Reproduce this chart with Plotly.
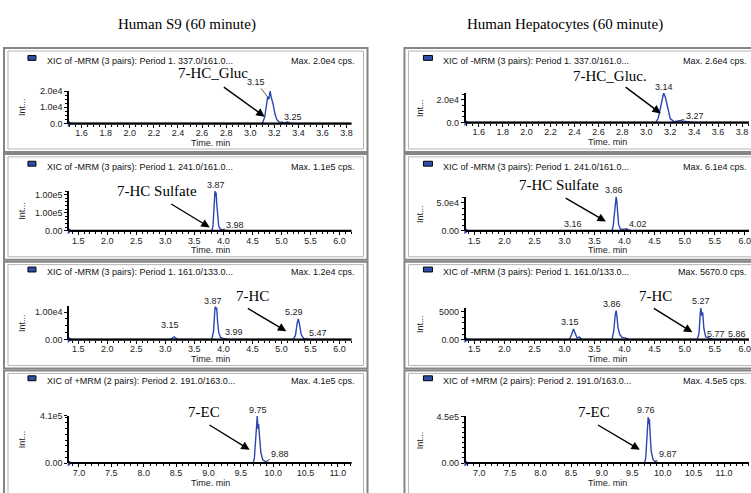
import plotly.graph_objects as go
import numpy as np

W, H = 751, 493


def px(x):
    return x / W


def py(y):
    return 1 - y / H


# ---------------- data ----------------
# Human S9 (60 minute)
s9_gluc_t = [1.50, 3.10, 3.12, 3.135, 3.145, 3.155, 3.165, 3.175, 3.19, 3.205, 3.22, 3.24, 3.26, 3.29, 3.31, 3.33, 3.36, 3.84]
s9_gluc_i = [0, 0, 4000, 12000, 16500, 15000, 20000, 16000, 12000, 6000, 2500, 900, 500, 700, 900, 400, 0, 0]

s9_sulf_t = [1.35, 3.80, 3.82, 3.84, 3.855, 3.865, 3.875, 3.885, 3.90, 3.92, 3.95, 3.98, 4.02, 4.08, 4.14, 6.20]
s9_sulf_i = [0, 0, 12000, 70000, 110000, 95000, 106000, 75000, 35000, 12000, 4500, 3000, 1800, 700, 0, 0]

s9_hc_t = [1.35, 3.08, 3.12, 3.15, 3.18, 3.22, 3.80, 3.83, 3.855, 3.865, 3.875, 3.885, 3.90, 3.92, 3.95, 3.99,
           4.05, 4.12, 5.20, 5.24, 5.27, 5.29, 5.31, 5.34, 5.38, 5.43, 5.47, 5.52, 6.20]
s9_hc_i = [0, 0, 500, 1000, 550, 0, 0, 3000, 11500, 12000, 11000, 11600, 6500, 2500, 800, 400,
           200, 0, 0, 1500, 6000, 7500, 5500, 1800, 400, 200, 150, 0, 0]

s9_ec_t = [6.85, 9.69, 9.71, 9.73, 9.745, 9.755, 9.765, 9.775, 9.79, 9.81, 9.84, 9.88, 9.93, 9.99, 10.05, 11.21]
s9_ec_i = [0, 0, 40000, 200000, 380000, 410000, 300000, 340000, 230000, 90000, 28000, 12000, 5000, 1500, 0, 0]

# Human Hepatocytes (60 minute)
hep_gluc_t = [1.50, 3.08, 3.10, 3.12, 3.135, 3.145, 3.16, 3.18, 3.20, 3.23, 3.26, 3.28, 3.31, 3.35, 3.40, 3.86]
hep_gluc_i = [0, 0, 4000, 14000, 23000, 26000, 22000, 11000, 3500, 800, 1300, 1600, 1200, 600, 0, 0]

hep_sulf_t = [1.36, 3.12, 3.16, 3.20, 3.79, 3.81, 3.835, 3.85, 3.86, 3.87, 3.885, 3.90, 3.93, 3.97, 4.02, 4.06, 4.12, 6.07]
hep_sulf_i = [0, 0, 700, 0, 0, 8000, 40000, 58000, 61000, 55000, 30000, 12000, 3500, 2500, 3500, 1800, 0, 0]

hep_hc_t = [1.36, 3.08, 3.12, 3.15, 3.18, 3.21, 3.25, 3.29, 3.79, 3.82, 3.845, 3.86, 3.875, 3.89, 3.92, 3.96, 4.01,
            4.09, 5.21, 5.24, 5.26, 5.27, 5.285, 5.30, 5.32, 5.35, 5.42, 5.50, 5.74, 5.77, 5.80, 5.84, 5.86, 5.89, 6.07]
hep_hc_i = [0, 0, 900, 1900, 1100, 300, 450, 0, 0, 1500, 4500, 5200, 4000, 2200, 900, 400, 300,
            0, 0, 1200, 4800, 5670, 4300, 4900, 2000, 500, 200, 0, 0, 150, 0, 0, 150, 0, 0]

hep_ec_t = [6.78, 9.70, 9.72, 9.74, 9.75, 9.76, 9.77, 9.78, 9.795, 9.81, 9.84, 9.87, 9.91, 9.96, 10.02, 11.41]
hep_ec_i = [0, 0, 50000, 250000, 420000, 450000, 380000, 430000, 250000, 110000, 35000, 15000, 6000, 2000, 0, 0]

# peak retention-time labels
s9_peaks = [[3.15, 3.25], [3.87, 3.98], [3.15, 3.87, 3.99, 5.29, 5.47], [9.75, 9.88]]
hep_peaks = [[3.14, 3.27], [3.16, 3.86, 4.02], [3.15, 3.86, 5.27, 5.77, 5.86], [9.76, 9.87]]

# text
column_titles = ["Human S9 (60 minute)", "Human Hepatocytes (60 minute)"]
xic_titles = ["XIC of -MRM (3 pairs): Period 1. 337.0/161.0...",
              "XIC of -MRM (3 pairs): Period 1. 241.0/161.0...",
              "XIC of -MRM (3 pairs): Period 1. 161.0/133.0...",
              "XIC of +MRM (2 pairs): Period 2. 191.0/163.0..."]
s9_max_text = ["Max. 2.0e4 cps.", "Max. 1.1e5 cps.", "Max. 1.2e4 cps.", "Max. 4.1e5 cps."]
hep_max_text = ["Max. 2.6e4 cps.", "Max. 6.1e4 cps.", "Max. 5670.0 cps.", "Max. 4.5e5 cps."]
s9_compounds = ["7-HC_Gluc", "7-HC Sulfate", "7-HC", "7-EC"]
hep_compounds = ["7-HC_Gluc.", "7-HC Sulfate", "7-HC", "7-EC"]
s9_ytickvals = [[0, 1e4, 2e4], [0, 5e4, 1e5], [0, 1e4], [0, 4.1e5]]
s9_yticktext = [["0.0", "1.0e4", "2.0e4"], ["0.00", "1.00e5", "1.00e5"], ["0.00", "1.00e4"], ["0.00", "4.1e5"]]
hep_ytickvals = [[0, 2e4], [0, 5e4], [0, 5000], [0, 4.5e5]]
hep_yticktext = [["0.0", "2.0e4"], ["0.00", "5.0e4"], ["0.00", "5000"], ["0.00", "4.5e5"]]

# ---------------- layout geometry (pixels) ----------------
col_plot_x = [(69.3, 352.0), (466.5, 750.0)]
col_box_x = [(4, 368), (405, 769)]
row_box_y = [(44, 150), (152, 260), (262, 371), (373, 506)]
header_y = [57, 165, 273, 384]
plot_y = [[(87.5, 121), (189.5, 230.5), (307.5, 341.5), (419, 467.5)],
          [(89.5, 120), (195.5, 230.5), (309, 341.5), (420, 467.5)]]
x_ranges = [[[1.497, 3.841], [1.345, 6.206], [1.345, 6.206], [6.850, 11.211]],
            [[1.493, 3.858], [1.359, 6.071], [1.359, 6.071], [6.780, 11.408]]]
x_dtick = [0.2, 0.5, 0.5, 0.5]
x_minor = [0.05, 0.1, 0.1, 0.1]
y_minor = [[2500, 10000, 2500, 50000], [5000, 10000, 1000, 50000]]
header_x = [45, 441.7]
icon_x = [(28, 36), (424, 433)]
max_right_x = [357, 750]
int_x = [22, 420]
title_x = [187, 566]

# compound label centre and arrow (tail -> head), pixels
compound_pos = [[(213, 69), (157, 190), (253, 297), (204, 415.5)],
                [(611, 72), (560, 184), (656, 297), (595, 415)]]
arrow_pos = [[((222.7, 83.3), (265, 114)), ((170, 202.7), (210, 227)), ((246.7, 309.3), (286.7, 333)),
              ((208.3, 428.3), (250, 454))],
             [((625, 83.3), (661.7, 110.7)), ((565, 196.7), (606.7, 221)), ((653.3, 309.3), (693.3, 334)),
              ((597.3, 428.3), (640.7, 454))]]
# peak label offsets (dx, dy, leader)
label_style = [
    [[(-12, -16, True), (13, -5, True)],
     [(0, -9, False), (13, -5, True)],
     [(-4, -12, False), (-3, -7, False), (11, -6, True), (-4, -7, False), (9, -6, True)],
     [(1, -8, False), (15, -8, True)]],
    [[(1, -8, False), (16, -5, True)],
     [(-1, -6, False), (-2, -7, False), (12, -5, True)],
     [(-3, -7, False), (-4, -7, False), (0, -7, False), (-15, -5, False), (1, -5, False)],
     [(-2, -7, False), (13, -7, True)]],
]

series = [
    [(s9_gluc_t, s9_gluc_i), (s9_sulf_t, s9_sulf_i), (s9_hc_t, s9_hc_i), (s9_ec_t, s9_ec_i)],
    [(hep_gluc_t, hep_gluc_i), (hep_sulf_t, hep_sulf_i), (hep_hc_t, hep_hc_i), (hep_ec_t, hep_ec_i)],
]
peaks = [s9_peaks, hep_peaks]
max_texts = [s9_max_text, hep_max_text]
compounds = [s9_compounds, hep_compounds]
ytickvals = [s9_ytickvals, hep_ytickvals]
yticktext = [s9_yticktext, hep_yticktext]

SANS = "Liberation Sans, Arial, sans-serif"
SERIF = "Liberation Serif, Times New Roman, serif"
BLUE = "#2b46b0"
FS = 9

fig = go.Figure()
layout = dict(width=W, height=H, margin=dict(l=0, r=0, t=0, b=0), autosize=False,
              paper_bgcolor="white", plot_bgcolor="white", showlegend=False)
annotations = []
shapes = []

n = 0
for c in range(2):
    for r in range(4):
        n += 1
        xa = "x" if n == 1 else f"x{n}"
        ya = "y" if n == 1 else f"y{n}"
        t, inten = series[c][r]
        ymax = max(inten) * 1.01
        x0, x1 = col_plot_x[c]
        ytop, ybot = plot_y[c][r]
        fig.add_trace(go.Scatter(x=t, y=inten, mode="lines", xaxis=xa, yaxis=ya,
                                 line=dict(color=BLUE, width=1.4), hoverinfo="skip"))
        fig.add_trace(go.Scatter(x=[x_ranges[c][r][0]], y=[0], mode="markers", xaxis=xa, yaxis=ya,
                                 marker=dict(symbol="triangle-right", size=6, color=BLUE),
                                 cliponaxis=False, hoverinfo="skip"))
        layout["xaxis" if n == 1 else f"xaxis{n}"] = dict(
            domain=[px(x0), px(x1)], anchor=ya, range=x_ranges[c][r],
            showline=False, showgrid=False, zeroline=False,
            ticks="outside", ticklen=3, tickwidth=1, tickcolor="black", ticklabelstandoff=-2,
            dtick=x_dtick[r], tick0=0, tickformat=".1f",
            tickfont=dict(family=SANS, size=FS, color="#222"),
            minor=dict(ticks="outside", ticklen=2, tickwidth=1, tickcolor="black", dtick=x_minor[r], tick0=0),
        )
        layout["yaxis" if n == 1 else f"yaxis{n}"] = dict(
            domain=[py(ybot), py(ytop)], anchor=xa, range=[0, ymax],
            showline=True, linecolor="black", linewidth=2, showgrid=False, zeroline=False,
            ticks="outside", ticklen=3, tickwidth=1, tickcolor="black",
            tickmode="array", tickvals=ytickvals[c][r], ticktext=yticktext[c][r],
            tickfont=dict(family=SANS, size=FS, color="#222"),
            minor=dict(ticks="outside", ticklen=2, tickwidth=1, tickcolor="black", dtick=y_minor[c][r], tick0=0),
        )
        # x axis line drawn over the trace baseline
        shapes.append(dict(type="line", xref=f"{xa} domain", yref=f"{ya} domain", x0=0, x1=1, y0=0, y1=0,
                           line=dict(color="black", width=2.2), layer="above"))
        # frames
        bx0, bx1 = col_box_x[c]
        by0, by1 = row_box_y[r]
        shapes.append(dict(type="rect", xref="paper", yref="paper", x0=px(bx0), x1=px(bx1),
                           y0=py(by1), y1=py(by0), line=dict(color="#858585", width=2)))
        shapes.append(dict(type="rect", xref="paper", yref="paper", x0=px(bx0 + 4), x1=px(bx1 - 4),
                           y0=py(by1 - 3), y1=py(by0 + 3), line=dict(color="#b5b5b5", width=1)))
        # legend icon
        ix0, ix1 = icon_x[c]
        hy = header_y[r]
        shapes.append(dict(type="rect", xref="paper", yref="paper", x0=px(ix0), x1=px(ix1),
                           y0=py(hy - 0.5), y1=py(hy - 5.5), fillcolor="#2f4ea8",
                           line=dict(color="black", width=1)))
        # header texts
        annotations.append(dict(text=xic_titles[r], xref="paper", yref="paper", x=px(header_x[c]), y=py(hy),
                                xanchor="left", yanchor="middle", showarrow=False,
                                font=dict(family=SANS, size=FS, color="#111")))
        annotations.append(dict(text=max_texts[c][r], xref="paper", yref="paper", x=px(max_right_x[c]),
                                y=py(hy), xanchor="right", yanchor="middle", showarrow=False,
                                font=dict(family=SANS, size=FS, color="#111")))
        # axis titles
        annotations.append(dict(text="Int...", xref="paper", yref="paper", x=px(int_x[c]),
                                y=py((ytop + ybot) / 2), textangle=-90, showarrow=False,
                                xanchor="center", yanchor="middle",
                                font=dict(family=SANS, size=FS, color="#222")))
        annotations.append(dict(text="Time. min", xref="paper", yref="paper", x=px((x0 + x1) / 2),
                                y=py(ybot + 20), showarrow=False, xanchor="center", yanchor="middle",
                                font=dict(family=SANS, size=FS, color="#222")))
        # compound label + arrow
        cx, cy = compound_pos[c][r]
        annotations.append(dict(text=compounds[c][r], xref="paper", yref="paper", x=px(cx), y=py(cy),
                                showarrow=False, xanchor="center", yanchor="middle",
                                font=dict(family=SERIF, size=15, color="black")))
        (tx, ty), (hx, hy2) = arrow_pos[c][r]
        annotations.append(dict(text="", xref="paper", yref="paper", x=px(hx), y=py(hy2),
                                ax=tx - hx, ay=ty - hy2, showarrow=True, arrowhead=2, arrowsize=1.2,
                                arrowwidth=1.4, arrowcolor="black", standoff=0, startstandoff=0))
        # peak labels
        for k, pt in enumerate(peaks[c][r]):
            dx, dy, leader = label_style[c][r][k]
            yv = float(np.interp(pt, t, inten))
            a = dict(text=f"{pt:.2f}", xref=xa, yref=ya, x=pt, y=yv,
                     font=dict(family=SANS, size=FS, color="#222"))
            if leader:
                a.update(showarrow=True, arrowhead=0, ax=dx, ay=dy, arrowwidth=0.8,
                         arrowcolor="#333", standoff=0)
            else:
                a.update(showarrow=False, xshift=dx, yshift=-dy, xanchor="center", yanchor="middle")
            annotations.append(a)

for c in range(2):
    annotations.append(dict(text=column_titles[c], xref="paper", yref="paper", x=px(title_x[c]), y=py(20),
                            showarrow=False, xanchor="center", yanchor="middle",
                            font=dict(family=SERIF, size=15, color="black")))

layout["annotations"] = annotations
layout["shapes"] = shapes
fig.update_layout(**layout)
fig.write_html("out.html")
